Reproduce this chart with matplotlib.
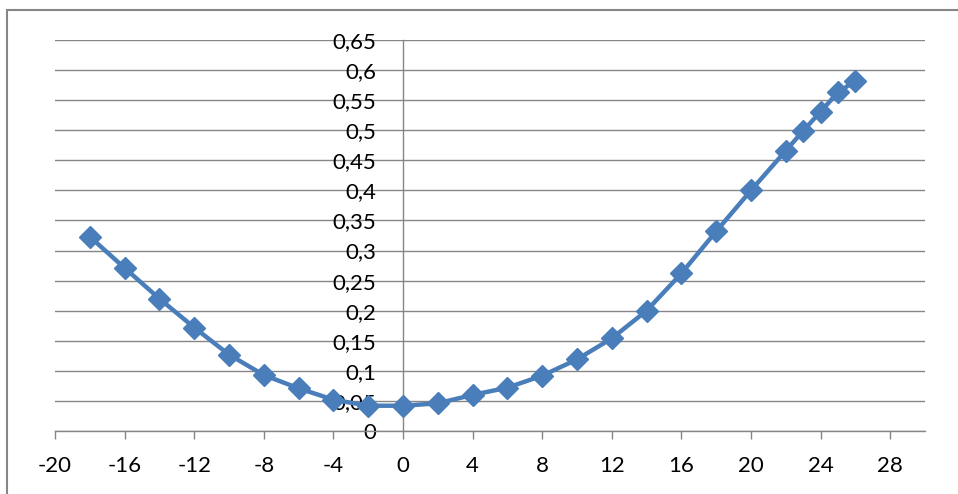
import matplotlib
matplotlib.use("Agg")
import matplotlib.pyplot as plt
from matplotlib.patches import Rectangle

x_values = [-18, -16, -14, -12, -10, -8, -6, -4, -2, 0, 2, 4, 6, 8, 10, 12, 14, 16, 18, 20, 22, 23, 24, 25, 26]
y_values = [0.323, 0.271, 0.220, 0.172, 0.127, 0.093, 0.071, 0.052, 0.042, 0.042, 0.046, 0.060, 0.072, 0.092,
            0.119, 0.154, 0.200, 0.262, 0.332, 0.400, 0.466, 0.499, 0.531, 0.563, 0.582]

x_ticks = [-20, -16, -12, -8, -4, 0, 4, 8, 12, 16, 20, 24, 28]
y_ticks = [0, 0.05, 0.1, 0.15, 0.2, 0.25, 0.3, 0.35, 0.4, 0.45, 0.5, 0.55, 0.6, 0.65]
y_tick_labels = ["0", "0,05", "0,1", "0,15", "0,2", "0,25", "0,3", "0,35", "0,4", "0,45", "0,5", "0,55", "0,6", "0,65"]

plt.rcParams['font.family'] = ['Lato', 'DejaVu Sans']

W, H = 958, 494
fig = plt.figure(figsize=(W / 100, H / 100), dpi=100)
fig.patch.set_facecolor('white')

# outer chart border (right and bottom edges lie outside the image)
fig.patches.append(Rectangle((7 / W, -0.05), (970 - 7) / W, 1 - 10 / H + 0.05,
                             transform=fig.transFigure, fill=False,
                             edgecolor='#868686', linewidth=1.5))

ax = fig.add_axes([55 / W, 1 - 431 / H, (925 - 55) / W, (431 - 40) / H])
ax.set_xlim(-20, 30)
ax.set_ylim(0, 0.65)

grid_color = '#868686'
ax.set_yticks(y_ticks)
ax.set_yticklabels(y_tick_labels)
ax.set_xticks(x_ticks)
ax.set_xticklabels([str(t) for t in x_ticks])
ax.yaxis.grid(True, color=grid_color, linewidth=1.0)
ax.set_axisbelow(True)

for s in ['top', 'right']:
    ax.spines[s].set_visible(False)
ax.spines['left'].set_position(('data', 0))
ax.spines['left'].set_color(grid_color)
ax.spines['bottom'].set_color(grid_color)
ax.spines['left'].set_linewidth(1.0)
ax.spines['bottom'].set_linewidth(1.0)

ax.tick_params(axis='y', length=0, pad=19, labelsize=16, colors='black')
ax.tick_params(axis='x', direction='out', length=6, width=1.0, color=grid_color,
               pad=12, labelsize=16, labelcolor='black')

ax.plot(x_values, y_values, color='#4A7EBB', linewidth=3.2, marker='D',
        markersize=11, markerfacecolor='#4A7EBB', markeredgecolor='#4A7EBB',
        clip_on=False, zorder=3)

fig.savefig('out.png', dpi=100, facecolor='white')
